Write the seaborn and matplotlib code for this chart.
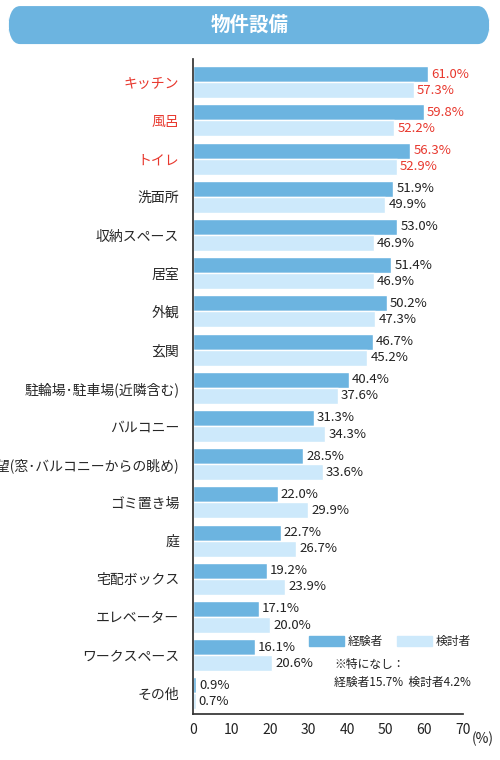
import pandas as pd
import matplotlib.pyplot as plt
import seaborn as sns
from matplotlib.patches import FancyBboxPatch, Patch

categories = ["キッチン", "風呂", "トイレ", "洗面所", "収納スペース", "居室", "外観", "玄関",
              "駐輪場･駐車場(近隣含む)", "バルコニー", "眺望(窓･バルコニーからの眺め)",
              "ゴミ置き場", "庭", "宅配ボックス", "エレベーター", "ワークスペース", "その他"]
experienced = [61.0, 59.8, 56.3, 51.9, 53.0, 51.4, 50.2, 46.7, 40.4, 31.3, 28.5,
               22.0, 22.7, 19.2, 17.1, 16.1, 0.9]
considering = [57.3, 52.2, 52.9, 49.9, 46.9, 46.9, 47.3, 45.2, 37.6, 34.3, 33.6,
               29.9, 26.7, 23.9, 20.0, 20.6, 0.7]
highlight = 3

sns.set_theme(style="white")
plt.rcParams['font.family'] = ['Noto Sans CJK JP', 'DejaVu Sans']

df = pd.DataFrame({"cat": categories * 2,
                   "val": experienced + considering,
                   "grp": ["経験者"] * len(categories) + ["検討者"] * len(categories)})
dark, light = "#6cb4e0", "#cde9fb"

fig = plt.figure(figsize=(5, 7.6), dpi=100)
ax = fig.add_axes([0.386, 0.06, 0.54, 0.862])
sns.barplot(data=df, y="cat", x="val", hue="grp", palette=[dark, light],
            orient="h", width=0.84, gap=0, legend=False, ax=ax, saturation=1)

for i, (a, b) in enumerate(zip(experienced, considering)):
    c = "#e8382e" if i < highlight else "#222222"
    ax.text(a + 0.8, i - 0.21, f"{a:.1f}%", va="center", ha="left", fontsize=9.5, color=c)
    ax.text(b + 0.8, i + 0.21, f"{b:.1f}%", va="center", ha="left", fontsize=9.5, color=c)

ax.set_xlim(0, 70)
ax.set_ylim(len(categories) - 0.45, -0.6)
ax.set_xticks(range(0, 71, 10))
ax.tick_params(axis="x", direction="in", length=5, labelsize=10, pad=6, colors="#222222")
ax.tick_params(axis="y", length=0, labelsize=10, pad=10)
for i, lab in enumerate(ax.get_yticklabels()):
    if i < highlight:
        lab.set_color("#e8382e")
ax.set_xlabel("")
ax.set_ylabel("")
for s in ["top", "right"]:
    ax.spines[s].set_visible(False)
ax.spines["left"].set_color("#333333")
ax.spines["bottom"].set_color("#333333")
fig.text(0.965, 0.0215, "(%)", fontsize=10, ha="center", color="#222222")

ax.legend(handles=[Patch(color=dark, label="経験者"), Patch(color=light, label="検討者")],
          loc="lower right", bbox_to_anchor=(1.07, 0.085), ncol=2, frameon=False,
          fontsize=8.5, handlelength=3, handleheight=0.9, columnspacing=1.2, handletextpad=0.3)
fig.text(0.668, 0.093, "※特になし：\n経験者15.7%  検討者4.2%", fontsize=8.5,
         va="bottom", ha="left", color="#222222", linespacing=1.5)

banner = FancyBboxPatch((0.016, 0.942), 0.964, 0.05, boxstyle="round,pad=0,rounding_size=0.024",
                        transform=fig.transFigure, facecolor=dark, edgecolor="none",
                        mutation_aspect=1.52)
fig.patches.append(banner)
fig.text(0.5, 0.967, "物件設備", ha="center", va="center", color="white",
         fontsize=14, fontweight="bold")

fig.savefig("out.png", dpi=100)
